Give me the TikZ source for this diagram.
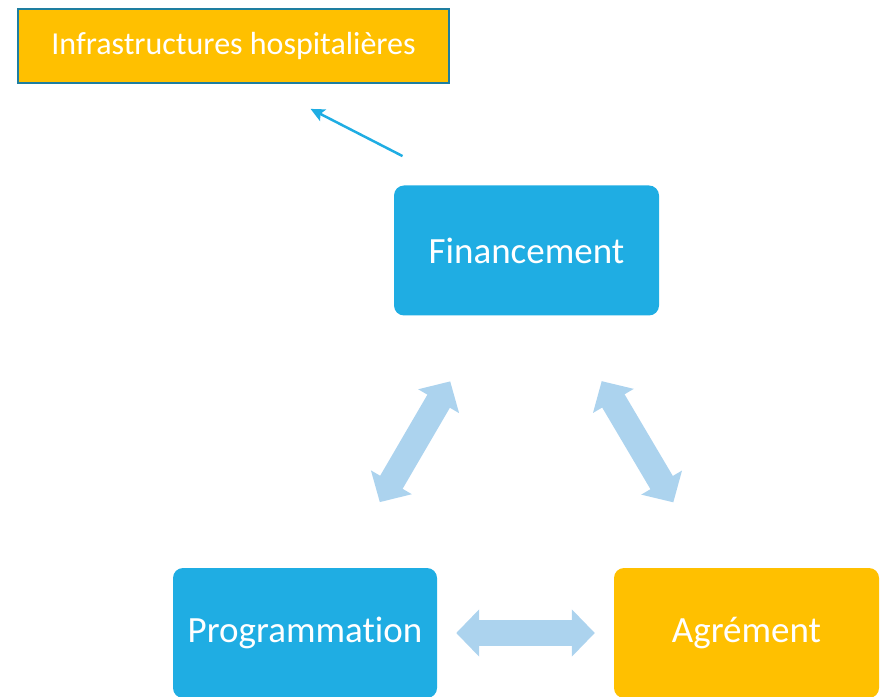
\documentclass[tikz,border=0pt]{standalone}
\usepackage{fontspec}
\setmainfont{Carlito}[Ligatures=CommonOff]
\usepackage{tikz}
\usetikzlibrary{positioning, calc, arrows.meta}

\definecolor{boxblue}{RGB}{31,173,227}
\definecolor{boxorange}{RGB}{255,192,0}
\definecolor{paleblue}{RGB}{172,211,238}
\definecolor{rimblue}{RGB}{30,126,160}

\begin{document}
\begin{tikzpicture}[x=1pt,y=1pt,
    stagebox/.style={rounded corners=10pt, minimum width=265pt, minimum height=130pt,
      text=white, font=\fontsize{37}{42}\selectfont, inner sep=0pt},
    fatarrow/.style={paleblue, line width=26pt,
      {Triangle[length=23pt,width=46pt]}-{Triangle[length=23pt,width=46pt]}}]
      \useasboundingbox (0,0) rectangle (885,696);
      \node[stagebox, fill=boxblue] (fin) at (526.5,445.5) {Financement};
      \node[stagebox, fill=boxblue, minimum width=264pt] (prog) at (305,63) {Programmation};
      \node[stagebox, fill=boxorange] (agr) at (746.5,63) {Agrément};
      \node[fill=boxorange, draw=rimblue, line width=2.5pt, minimum width=431pt,
        minimum height=74pt, text=white, font=\fontsize{32}{36}\selectfont]
        (infra) at (233.5,650) {Infrastructures hospitalières};
      %
      \draw[boxblue, line width=2.5pt, -{Stealth[length=14pt,width=13pt,inset=3pt]},
        shorten <=64pt, shorten >=54pt]
        ([xshift=-67pt]fin.north) -- ([xshift=29pt]infra.south);

      \draw[fatarrow, shorten <=76pt, shorten >=76pt]
        ([xshift=-38pt]fin.south) -- ([xshift=36.5pt]prog.north);
      \draw[fatarrow, shorten <=76pt, shorten >=76pt]
        ([xshift=36.5pt]fin.south) -- ([xshift=-34.5pt]agr.north);
      \draw[fatarrow, shorten <=19pt, shorten >=19pt]
        (prog.east) -- (agr.west);
\end{tikzpicture}
\end{document}
